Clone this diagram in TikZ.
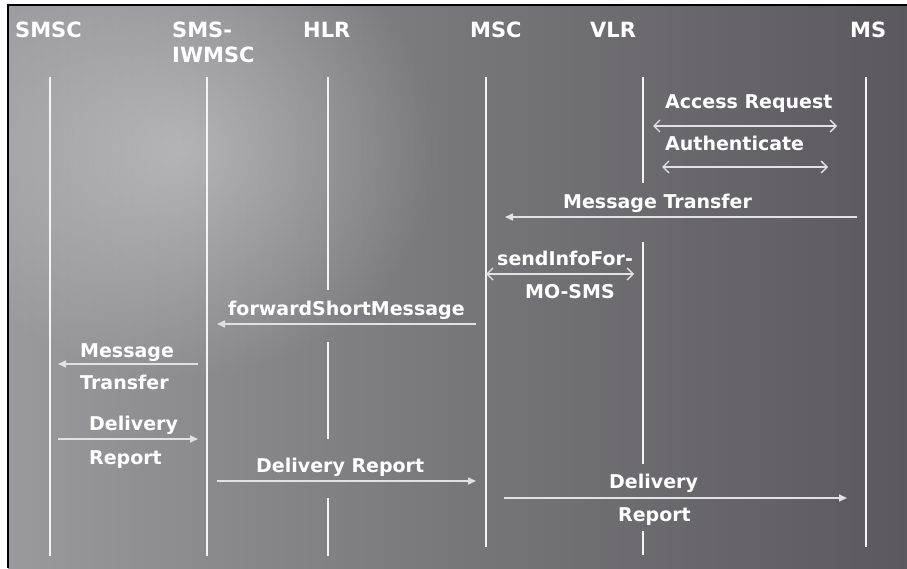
\documentclass[tikz,border=0pt]{standalone}
\usepackage{fontspec}
\setmainfont{DejaVu Sans}
\usetikzlibrary{arrows.meta,fadings}
\definecolor{bgL}{HTML}{9A999E}
\definecolor{bgM}{HTML}{77767B}
\definecolor{bgR}{HTML}{5B595F}
\definecolor{ln}{HTML}{F4F4F4}
\definecolor{ar}{HTML}{E2E2E4}
\tikzfading[name=softglow, inner color=transparent!65, outer color=transparent!100]
\tikzset{
  head/.style={anchor=base west,inner sep=0pt,text=white,font=\bfseries\fontsize{21}{24}\selectfont},
  msg/.style={anchor=base west,inner sep=0pt,text=white,font=\bfseries\fontsize{19}{22}\selectfont},
  life/.style={draw=ln,line width=2pt},
  one/.style={draw=ar,line width=1.6pt,-{Triangle[length=8pt,width=7pt]}},
  two/.style={draw=ar,line width=1.4pt,{Straight Barb[length=6pt,width=12pt]}-{Straight Barb[length=6pt,width=12pt]}}
}
\begin{document}
\begin{tikzpicture}[x=1pt,y=-1pt]
\useasboundingbox (0,0) rectangle (907,568);
\fill[white] (0,0) rectangle (907,568);
\shade[left color=bgL,right color=bgR,middle color=bgM] (8,5) rectangle (907,568);
\begin{scope}
\clip (8,5) rectangle (907,568);
\fill[white,path fading=softglow] (180,150) ellipse (260pt and 230pt);
\end{scope}
\draw[black,line width=2pt] (8,568) -- (8,5) -- (907,5);
% headers
\node[head] (hSMSC) at (15,37) {SMSC};
\node[head] (hSMS) at (172,37) {SMS-};
\node[head] (hIW) at (172,62) {IWMSC};
\node[head] (hHLR) at (303,37) {HLR};
\node[head] (hMSC) at (470,37) {MSC};
\node[head] (hVLR) at (590,37) {VLR};
\node[head] (hMS) at (850,37) {MS};
% lifeline coordinates
\coordinate (s1) at (50,77);  \coordinate (s2) at (50,556);
\coordinate (i1) at (207,77); \coordinate (i2) at (207,556);
\coordinate (h1) at (328,77); \coordinate (h2) at (328,290);
\coordinate (h3) at (328,342); \coordinate (h4) at (328,439);
\coordinate (h5) at (328,498); \coordinate (h6) at (328,556);
\coordinate (m1) at (486,77); \coordinate (m2) at (486,547);
\coordinate (v1) at (643,77); \coordinate (v2) at (643,183);
\coordinate (v3) at (643,242); \coordinate (v4) at (643,464);
\coordinate (v5) at (643,531); \coordinate (v6) at (643,555);
\coordinate (ms1) at (866,77); \coordinate (ms2) at (866,547);
\draw[life] (s1) -- (s2);
\draw[life] (i1) -- (i2);
\draw[life] (h1) -- (h2) (h3) -- (h4) (h5) -- (h6);
\draw[life] (m1) -- (m2);
\draw[life] (v1) -- (v2) (v3) -- (v4) (v5) -- (v6);
\draw[life] (ms1) -- (ms2);
% labels
\node[msg] (lAR) at (665,108) {Access Request};
\node[msg] (lAu) at (665,150) {Authenticate};
\node[msg] (lMT) at (563,208) {Message Transfer};
\node[msg] (lSI) at (497,265) {sendInfoFor-};
\node[msg] (lMO) at (525,298) {MO-SMS};
\node[msg] (lFW) at (228,315) {forwardShortMessage};
\node[msg] (lMe) at (80,357) {Message};
\node[msg] (lTr) at (80,389) {Transfer};
\node[msg] (lD1) at (89,430) {Delivery};
\node[msg] (lR1) at (89,464) {Report};
\node[msg] (lDR) at (256,472) {Delivery Report};
\node[msg] (lD2) at (609,488) {Delivery};
\node[msg] (lR2) at (618,521) {Report};
% arrow coordinates
\coordinate (a1) at (653,126); \coordinate (a2) at (837,126);
\coordinate (b1) at (662,167); \coordinate (b2) at (828,167);
\coordinate (c1) at (857,217); \coordinate (c2) at (505,217);
\coordinate (d1) at (486,274); \coordinate (d2) at (634,274);
\coordinate (e1) at (476,324); \coordinate (e2) at (217,324);
\coordinate (f1) at (198,364); \coordinate (f2) at (58,364);
\coordinate (g1) at (58,439);  \coordinate (g2) at (198,439);
\coordinate (k1) at (217,481); \coordinate (k2) at (476,481);
\coordinate (n1) at (504,498); \coordinate (n2) at (847,498);
\draw[two] (a1) -- (a2);
\draw[two] (b1) -- (b2);
\draw[one] (c1) -- (c2);
\draw[two] (d1) -- (d2);
\draw[one] (e1) -- (e2);
\draw[one] (f1) -- (f2);
\draw[one] (g1) -- (g2);
\draw[one] (k1) -- (k2);
\draw[one] (n1) -- (n2);
\end{tikzpicture}
\end{document}
